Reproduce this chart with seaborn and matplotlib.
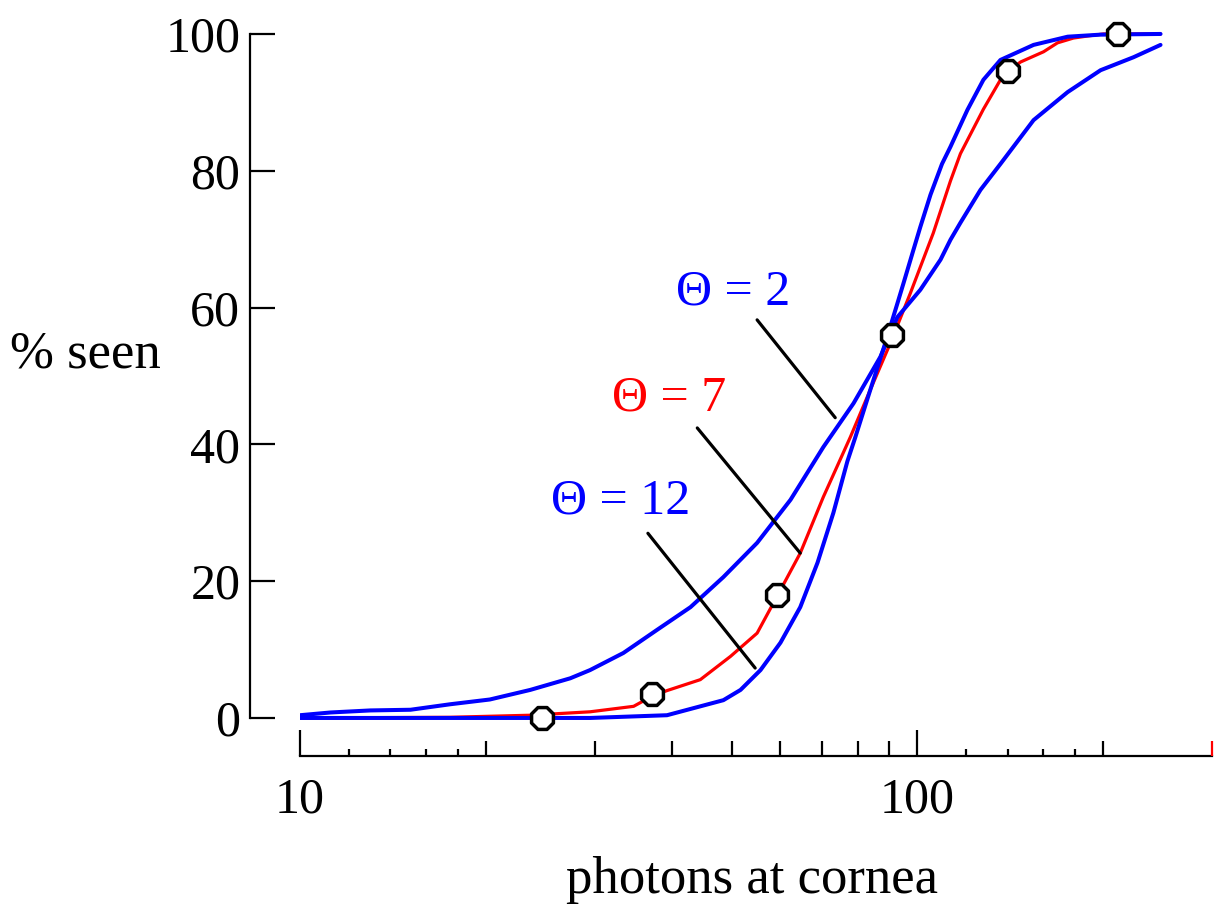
import numpy as np
import pandas as pd
import matplotlib
matplotlib.use("Agg")
import matplotlib.pyplot as plt
from matplotlib.ticker import NullLocator, NullFormatter
import seaborn as sns

# ---------------- data ----------------
theta2_x = [10, 11.2, 13.0, 15.1, 17.5, 20.3, 23.6, 27.4, 29.5, 33.4, 37.9, 42.9, 48.5, 55.0,
            62.3, 70.4, 78.8, 87.1, 92.8, 101.1, 109.0, 113.1, 117.4, 126.5, 136.3, 154.2,
            175.1, 198.0, 223.9, 247.6]
theta2_y = [0.4, 0.8, 1.1, 1.2, 2.0, 2.7, 4.1, 5.8, 7.0, 9.5, 12.9, 16.2, 20.6, 25.6,
            31.9, 39.6, 46.0, 52.8, 58.6, 62.6, 67.0, 69.9, 72.4, 77.2, 81.0, 87.4,
            91.5, 94.7, 96.6, 98.4]

theta7_x = [10, 17.5, 23.6, 29.5, 34.7, 37.2, 39.3, 44.5, 49.8, 55.0, 60.0, 64.6, 70.4, 77.9,
            83.9, 90.4, 97.4, 106.1, 113.1, 117.4, 127.9, 136.3, 140.3, 146.9, 160.1, 168.6,
            178.9, 188.6, 200.2, 223.9, 247.6]
theta7_y = [0, 0.1, 0.4, 0.9, 1.7, 3.2, 4.0, 5.6, 9.0, 12.4, 18.7, 24.1, 32.3, 41.1,
            48.0, 54.8, 62.1, 70.9, 78.5, 82.5, 89.0, 93.3, 94.5, 95.9, 97.4, 98.7,
            99.4, 99.7, 100, 100, 100]

theta12_x = [10, 26.4, 29.5, 39.3, 44.5, 48.5, 51.7, 55.7, 60.0, 64.6, 68.9, 73.1, 77.0, 79.3,
             83.9, 88.7, 92.8, 94.9, 98.5, 101.1, 105.0, 109.6, 113.1, 120.5, 127.9, 136.3,
             154.2, 175.1, 198.0, 247.6]
theta12_y = [0, 0, 0, 0.4, 1.7, 2.6, 4.1, 7.0, 11.0, 16.2, 22.7, 30.0, 37.5, 41.0,
             48.0, 54.8, 60.6, 63.5, 68.4, 71.8, 76.5, 81.0, 83.5, 88.9, 93.3, 96.2,
             98.4, 99.6, 99.9, 100]

data_x = [24.7, 37.2, 59.3, 91.0, 140.3, 210.9]
data_y = [0, 3.5, 18.0, 56.0, 94.6, 100]

y_ticks = [0, 20, 40, 60, 80, 100]
x_major = [10, 100]
x_major_labels = ["10", "100"]
x_medium = [20, 30, 40, 50, 60, 70, 80, 90, 200]
x_end = [300]
x_small = [12, 14, 16, 18, 120, 140, 160, 180]

labels = ["\u0398 = 2", "\u0398 = 7", "\u0398 = 12"]
label_colors = ["#0000ff", "#ff0000", "#0000ff"]
label_pos = [(50.3, 62.3), (39.6, 46.8), (33.1, 31.7)]
leader_start = [(55.0, 58.2), (44.0, 42.4), (36.6, 27.0)]
leader_end = [(73.6, 43.9), (64.6, 24.1), (54.6, 7.3)]

# ---------------- style ----------------
sns.set_style("ticks")
plt.rcParams["font.family"] = ["Liberation Serif", "DejaVu Serif"]
plt.rcParams["text.color"] = "black"
plt.rcParams["axes.labelcolor"] = "black"

fig = plt.figure(figsize=(12.24, 9.08), dpi=100)
ax = fig.add_axes([0.2451, 0.1867, 0.7451, 0.7985])
ax.set_xscale("log")
ax.set_xlim(10, 300)
ax.set_ylim(-3, 103)

df7 = pd.DataFrame({"photons": theta7_x, "seen": theta7_y})
df2 = pd.DataFrame({"photons": theta2_x, "seen": theta2_y})
df12 = pd.DataFrame({"photons": theta12_x, "seen": theta12_y})
dpts = pd.DataFrame({"photons": data_x, "seen": data_y})

sns.lineplot(data=df7, x="photons", y="seen", color="#ff0000", lw=2.3,
             estimator=None, sort=False, ax=ax)
sns.lineplot(data=df2, x="photons", y="seen", color="#0000ff", lw=2.9,
             estimator=None, sort=False, ax=ax)
sns.lineplot(data=df12, x="photons", y="seen", color="#0000ff", lw=2.9,
             estimator=None, sort=False, ax=ax)
sns.scatterplot(data=dpts, x="photons", y="seen", marker="8", s=290,
                facecolor="white", edgecolor="black", linewidth=2.5,
                zorder=5, clip_on=False, ax=ax)

for txt, col, pos, s, e in zip(labels, label_colors, label_pos, leader_start, leader_end):
    ax.text(pos[0], pos[1], txt, color=col, fontsize=36, ha="center", va="center")
    ax.annotate("", xy=e, xytext=s,
                arrowprops=dict(arrowstyle="-", lw=2.3, color="black",
                                shrinkA=0, shrinkB=0))

# ---------------- axes ----------------
for side in ["top", "right"]:
    ax.spines[side].set_visible(False)
ax.spines["left"].set_position(("outward", 36))
ax.spines["left"].set_bounds(0, 100)
ax.spines["bottom"].set_position(("outward", 12.6))
ax.spines["bottom"].set_bounds(10, 300)
for side in ["left", "bottom"]:
    ax.spines[side].set_linewidth(1.6)
    ax.spines[side].set_color("black")

ax.set_yticks(y_ticks)
ax.set_yticklabels([str(v) for v in y_ticks])
ax.tick_params(axis="y", direction="in", length=18, width=1.6, pad=7,
               labelsize=36, colors="black")

ax.set_xticks(x_major)
ax.set_xticklabels(x_major_labels)
ax.set_xticks(x_medium, minor=True)
ax.xaxis.set_minor_formatter(NullFormatter())
ax.tick_params(axis="x", which="major", direction="in", length=19, width=1.6,
               pad=15, labelsize=36, colors="black")
ax.tick_params(axis="x", which="minor", direction="in", length=10.8, width=1.6,
               colors="black")


def tick_twin(positions, length, color):
    tw = ax.twiny()
    tw.set_xscale("log")
    tw.set_xlim(10, 300)
    tw.xaxis.set_ticks_position("bottom")
    tw.spines["bottom"].set_position(("outward", 12.6))
    for side in ["top", "right", "left", "bottom"]:
        tw.spines[side].set_visible(False)
    tw.set_xticks(positions)
    tw.xaxis.set_minor_locator(NullLocator())
    tw.xaxis.set_major_formatter(NullFormatter())
    tw.tick_params(axis="x", which="major", direction="in", length=length, width=1.6,
                   colors=color, labelbottom=False, labeltop=False)
    return tw


tick_twin(x_small, 5, "black")
tick_twin(x_end, 10.8, "#ff0000")

ax.set_xlabel("photons at cornea", fontsize=38, va="center", color="black")
ax.xaxis.set_label_coords(0.4956, -0.195)
ax.set_ylabel("% seen", fontsize=38, rotation=0, ha="left", va="center", color="black")
ax.yaxis.set_label_coords(-0.318, 0.529)

fig.savefig("out.png", dpi=100)
